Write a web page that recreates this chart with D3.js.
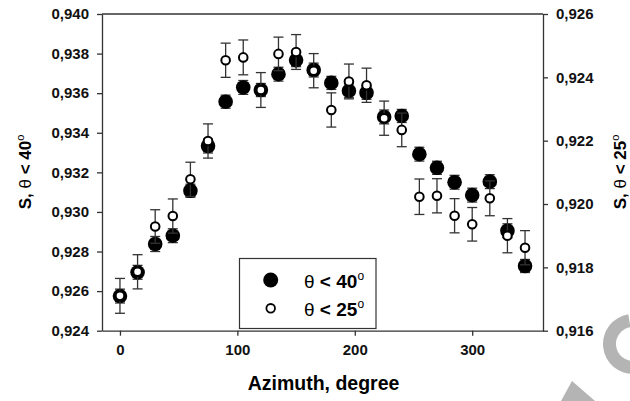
<!DOCTYPE html>
<html>
<head>
<meta charset="utf-8">
<script src="https://cdn.jsdelivr.net/npm/d3@7"></script>
<style>
  body { margin: 0; background: #fff; }
  svg { display: block; font-family: "Liberation Sans", Arial, sans-serif; }
  .tick text { font-size: 15px; font-weight: bold; fill: #111; }
  .axis path, .axis line { stroke: #333; stroke-width: 1.3; }
</style>
</head>
<body>
<svg width="630" height="401"></svg>
<script>
(() => {
  // azimuth, degree
  const azimuths = [0, 15, 30, 45, 60, 75, 90, 105, 120, 135, 150, 165, 180, 195, 210, 225, 240, 255, 270, 285, 300, 315, 330, 345];
  // S, theta < 40 (left axis)
  const s40 = [0.92575, 0.92695, 0.92838, 0.92880, 0.93107, 0.93333, 0.93557, 0.93629, 0.93616, 0.93696, 0.93767, 0.93717,
               0.93652, 0.93612, 0.93602, 0.93480, 0.93485, 0.93292, 0.93223, 0.93150, 0.93085, 0.93153, 0.92905, 0.92727];
  const s40err = [0.00035, 0.00035, 0.00038, 0.00035, 0.00033, 0.00035, 0.00033, 0.00035, 0.00033, 0.00035, 0.00033, 0.00035,
                  0.00033, 0.00035, 0.00033, 0.00035, 0.00033, 0.00035, 0.00033, 0.00035, 0.00035, 0.00035, 0.00035, 0.00033];
  // S, theta < 25 (right axis)
  const s25 = [0.91710, 0.91786, 0.91929, 0.91962, 0.92078, 0.92199, 0.92454, 0.92463, 0.92360, 0.92474, 0.92480, 0.92421,
               0.92297, 0.92387, 0.92375, 0.92271, 0.92234, 0.92023, 0.92026, 0.91963, 0.91936, 0.92018, 0.91900, 0.91862];
  const s25err = [0.00055, 0.00054, 0.00053, 0.00054, 0.00054, 0.00054, 0.00054, 0.00055, 0.00055, 0.00053, 0.00055, 0.00054,
                  0.00054, 0.00055, 0.00054, 0.00054, 0.00053, 0.00056, 0.00054, 0.00054, 0.00053, 0.00055, 0.00054, 0.00054];
  const xTicks = [0, 100, 200, 300];
  const yLeftTicks = [0.924, 0.926, 0.928, 0.930, 0.932, 0.934, 0.936, 0.938, 0.940];
  const yRightTicks = [0.916, 0.918, 0.920, 0.922, 0.924, 0.926];

  const svg = d3.select("svg");
  const box = {left: 102, right: 543, top: 14, bottom: 330.7};

  const locale = d3.formatLocale({decimal: ",", thousands: ".", grouping: [3], currency: ["", ""]});
  const fmt = locale.format(".3f");

  const x = d3.scaleLinear().domain([-15.3, 360.3]).range([box.left, box.right]);
  const yL = d3.scaleLinear().domain([0.924, 0.940]).range([box.bottom, box.top]);
  const yR = d3.scaleLinear().domain([0.916, 0.926]).range([box.bottom, box.top]);

  // watermark bits in the corner
  const wm = svg.append("g").attr("fill", "#b4b4b4");
  wm.append("path")
    .attr("transform", "translate(633,344)")
    .attr("d", d3.arc().innerRadius(17).outerRadius(30).startAngle(-Math.PI * 1.02).endAngle(-Math.PI * 0.05)());
  wm.append("path")
    .attr("transform", "translate(633,344)")
    .attr("d", d3.arc().innerRadius(17).outerRadius(30).startAngle(-Math.PI * 1.95).endAngle(-Math.PI * 1.45)());
  wm.append("path").attr("d", "M561,401 L572,381 L595,401 Z");

  // frame
  svg.append("line").attr("class", "frame")
    .attr("x1", box.left).attr("x2", box.right).attr("y1", box.top).attr("y2", box.top)
    .attr("stroke", "#333").attr("stroke-width", 1.3);

  svg.append("g").attr("class", "axis")
    .attr("transform", "translate(0," + box.bottom + ")")
    .call(d3.axisBottom(x).tickValues(xTicks).tickSize(5).tickSizeOuter(0).tickPadding(9));

  svg.append("g").attr("class", "axis")
    .attr("transform", "translate(" + box.left + ",0)")
    .call(d3.axisLeft(yL).tickValues(yLeftTicks).tickFormat(fmt).tickSize(5).tickSizeOuter(0).tickPadding(8));

  svg.append("g").attr("class", "axis")
    .attr("transform", "translate(" + box.right + ",0)")
    .call(d3.axisRight(yR).tickValues(yRightTicks).tickFormat(fmt).tickSize(5).tickSizeOuter(0).tickPadding(8));

  const rows = azimuths.map((a, i) => ({a: a, s40: s40[i], e40: s40err[i], s25: s25[i], e25: s25err[i]}));

  const drawErr = (key, errKey, y, cap) => {
    const g = svg.append("g").attr("stroke", "#333").attr("stroke-width", 1.3);
    rows.forEach((d) => {
      const cx = x(d.a);
      const y1 = y(d[key] + d[errKey]);
      const y2 = y(d[key] - d[errKey]);
      g.append("line").attr("x1", cx).attr("x2", cx).attr("y1", y1).attr("y2", y2);
      g.append("line").attr("x1", cx - cap).attr("x2", cx + cap).attr("y1", y1).attr("y2", y1);
      g.append("line").attr("x1", cx - cap).attr("x2", cx + cap).attr("y1", y2).attr("y2", y2);
    });
  };

  drawErr("s40", "e40", yL, 5);
  svg.append("g").selectAll("circle")
    .data(rows).enter().append("circle")
      .attr("cx", (d) => x(d.a))
      .attr("cy", (d) => yL(d.s40))
      .attr("r", 7.3)
      .attr("fill", "#000");

  drawErr("s25", "e25", yR, 5);
  svg.append("g").selectAll("circle")
    .data(rows).enter().append("circle")
      .attr("cx", (d) => x(d.a))
      .attr("cy", (d) => yR(d.s25))
      .attr("r", 4.3)
      .attr("fill", "#fff")
      .attr("stroke", "#000")
      .attr("stroke-width", 2);

  // axis titles
  svg.append("text")
    .attr("x", (box.left + box.right) / 2 + 1).attr("y", 390)
    .attr("text-anchor", "middle")
    .style("font-size", "19.5px").style("font-weight", "bold")
    .text("Azimuth, degree");

  const yTitle = (tx, label) => {
    const t = svg.append("text")
      .attr("transform", "translate(" + tx + ",172) rotate(-90)")
      .attr("text-anchor", "middle")
      .style("font-size", "17px").style("font-weight", "bold");
    t.append("tspan").text("S, ");
    t.append("tspan").style("font-weight", "normal").text("θ");
    t.append("tspan").text(" < " + label);
    t.append("tspan").attr("dy", -7).style("font-size", "11px").style("font-weight", "normal").text("o");
  };
  yTitle(31, "40");
  yTitle(626, "25");

  // legend
  const lg = svg.append("g");
  lg.append("rect")
    .attr("x", 239.5).attr("y", 258.5).attr("width", 136.5).attr("height", 70)
    .attr("fill", "#fff").attr("stroke", "#333").attr("stroke-width", 1.2);
  lg.append("circle").attr("cx", 270.7).attr("cy", 280).attr("r", 7.5).attr("fill", "#000");
  lg.append("circle").attr("cx", 270.7).attr("cy", 308.3).attr("r", 4.3)
    .attr("fill", "#fff").attr("stroke", "#000").attr("stroke-width", 1.8);
  [["40", 288], ["25", 316]].forEach(([lab, by]) => {
    const t = lg.append("text").attr("x", 304).attr("y", by)
      .style("font-size", "19px").style("font-weight", "bold");
    t.append("tspan").style("font-weight", "normal").text("θ");
    t.append("tspan").text(" < " + lab);
    t.append("tspan").attr("dy", -8).style("font-size", "12px").style("font-weight", "normal").text("o");
  });
})();
</script>
</body>
</html>
